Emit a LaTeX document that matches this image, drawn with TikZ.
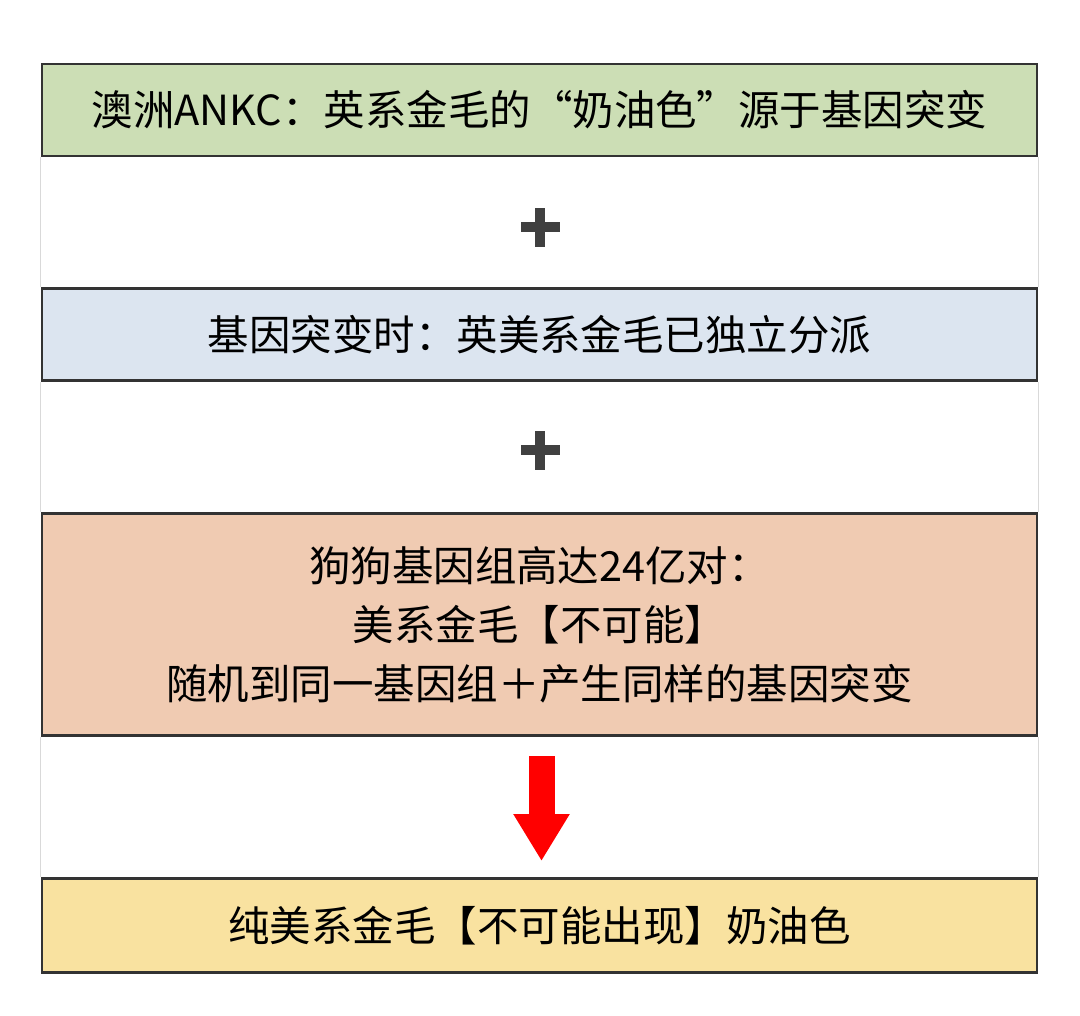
\documentclass[tikz,border=0pt]{standalone}
\usepackage{fontspec}
\setmainfont{Noto Sans CJK SC}
\usetikzlibrary{positioning,arrows.meta,calc}

\definecolor{boxgreen}{RGB}{204,222,181}
\definecolor{boxblue}{RGB}{220,229,240}
\definecolor{boxsalmon}{RGB}{240,203,178}
\definecolor{boxyellow}{RGB}{249,226,160}
\definecolor{plusgray}{RGB}{64,64,64}

\begin{document}
\begin{tikzpicture}[font=\fontsize{11.8}{16.8}\selectfont,
  bx/.style={draw=black!80,line width=0.8pt,align=center,minimum width=9.95cm,minimum height=0.92cm,inner sep=0pt},
  sd/.style={draw=black!15,line width=0.5pt},
  pl/.style={fill=plusgray},
  dn/.style={-{Triangle[width=0.53cm,length=0.47cm]},line width=0.26cm,draw=red}]
  \useasboundingbox (0,0) rectangle (10.8,-10.15);
  \node[bx,fill=boxgreen] (b1) at (5.395,-1.10) {澳洲ANKC：英系金毛的“奶油色”源于基因突变};
  \node[bx,fill=boxblue,below=1.30cm of b1] (b2) {基因突变时：英美系金毛已独立分派};
  \node[bx,fill=boxsalmon,minimum height=2.22cm,below=1.30cm of b2] (b3) {狗狗基因组高达24亿对：\\美系金毛【不可能】\\随机到同一基因组＋产生同样的基因突变};
  \node[bx,fill=boxyellow,minimum height=0.94cm,below=1.40cm of b3] (b4) {纯美系金毛【不可能出现】奶油色};
  % faint side lines of the gaps
  \draw[sd] (b1.south west) -- (b2.north west);
  \draw[sd] (b1.south east) -- (b2.north east);
  \draw[sd] (b2.south west) -- (b3.north west);
  \draw[sd] (b2.south east) -- (b3.north east);
  \draw[sd] (b3.south west) -- (b4.north west);
  \draw[sd] (b3.south east) -- (b4.north east);
  % plus signs
  \coordinate (p1) at ($(b1.south)!0.5!(b2.north)+(0.005,-0.05)$);
  \coordinate (p2) at ($(b2.south)!0.5!(b3.north)+(0.005,-0.03)$);
  \foreach \p in {p1,p2}{
    \fill[pl] ($(\p)+(-0.195,-0.05)$) rectangle ($(\p)+(0.195,0.05)$);
    \fill[pl] ($(\p)+(-0.05,-0.195)$) rectangle ($(\p)+(0.05,0.195)$);
  }
  \draw[dn] ([xshift=0.02cm,yshift=-0.19cm]b3.south) -- ([xshift=0.02cm,yshift=0.16cm]b4.north);
\end{tikzpicture}
\end{document}
